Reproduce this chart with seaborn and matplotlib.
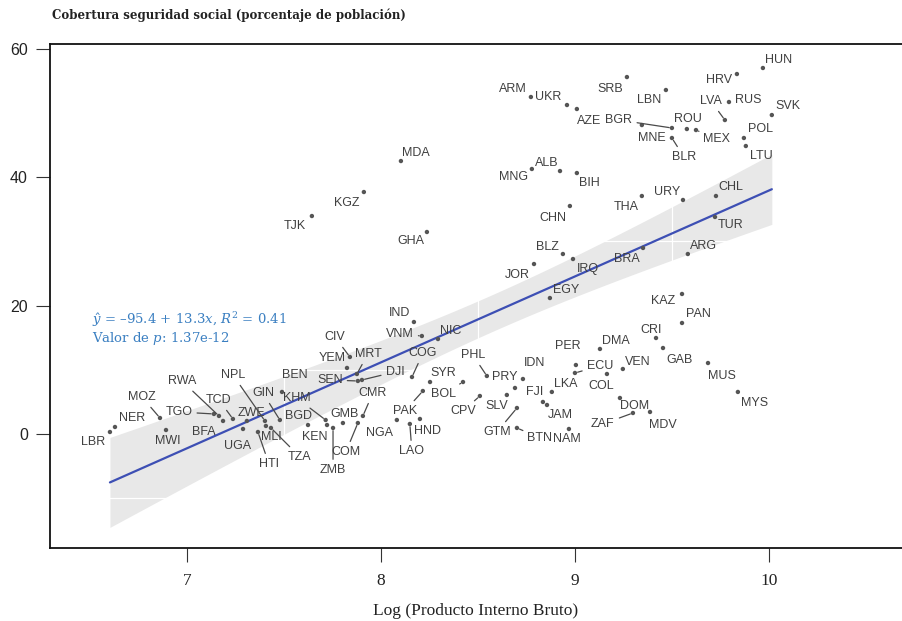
import numpy as np
import pandas as pd
import matplotlib
matplotlib.use("Agg")
import matplotlib.pyplot as plt
import seaborn as sns

# Country codes, log GDP per capita and social security coverage (% of population)
countries = [
    "LBR", "NER", "MOZ", "MWI", "TGO", "RWA", "TCD", "BFA", "ZWE", "UGA",
    "NPL", "GIN", "BEN", "KHM", "BGD", "MLI", "TZA", "HTI", "KEN", "ZMB",
    "GMB", "COM", "CMR", "NGA", "PAK", "HND", "LAO", "CIV", "YEM", "MRT",
    "SEN", "DJI", "IND", "VNM", "NIC", "COG", "SYR", "BOL", "PHL", "CPV",
    "SLV", "PRY", "GTM", "BTN", "IDN", "FJI", "LKA", "JAM", "NAM", "PER",
    "ECU", "DMA", "COL", "VEN", "DOM", "ZAF", "MDV", "CRI", "GAB", "MUS",
    "MYS", "KAZ", "PAN", "EGY", "JOR", "BLZ", "IRQ", "BRA", "ARG", "TUR",
    "CHL", "URY", "THA", "CHN", "GHA", "MDA", "MNG", "ALB", "BIH", "TJK",
    "KGZ", "ARM", "UKR", "AZE", "SRB", "LBN", "BGR", "ROU", "MEX", "MNE",
    "BLR", "LVA", "RUS", "HRV", "HUN", "SVK", "POL", "LTU",
]
log_gdp = [
    6.603, 6.629, 6.861, 6.892, 7.139, 7.165, 7.237, 7.186, 7.309, 7.289,
    7.402, 7.479, 7.490, 7.715, 7.624, 7.407, 7.433, 7.366, 7.722, 7.753,
    7.804, 7.881, 7.907, 8.082, 8.216, 8.201, 8.149, 7.840, 7.825, 7.876,
    7.881, 7.902, 8.170, 8.211, 8.294, 8.160, 8.253, 8.423, 8.546, 8.510,
    8.649, 8.691, 8.701, 8.701, 8.732, 8.835, 8.881, 8.856, 8.969, 9.005,
    9.000, 9.129, 9.165, 9.247, 9.232, 9.299, 9.387, 9.418, 9.454, 9.686,
    9.840, 9.552, 9.552, 8.871, 8.789, 8.938, 8.990, 9.351, 9.582, 9.722,
    9.727, 9.557, 9.345, 8.974, 8.237, 8.103, 8.778, 8.923, 9.010, 7.644,
    7.912, 8.773, 8.959, 9.010, 9.268, 9.469, 9.500, 9.577, 9.624, 9.345,
    9.500, 9.773, 9.794, 9.835, 9.969, 10.015, 9.871, 9.881,
]
coverage = [
    0.31, 1.09, 2.49, 0.62, 3.12, 2.81, 2.34, 2.03, 2.03, 0.78,
    2.03, 2.18, 6.55, 2.18, 1.40, 1.25, 0.94, 0.31, 1.40, 0.94,
    1.71, 1.71, 2.81, 2.18, 6.70, 2.34, 1.56, 12.0, 10.29, 9.35,
    8.26, 8.42, 17.45, 15.27, 14.80, 8.88, 8.10, 8.10, 9.04, 5.92,
    6.08, 7.17, 4.05, 0.94, 8.57, 4.99, 6.55, 4.52, 0.78, 10.75,
    9.51, 13.25, 9.35, 10.13, 5.61, 3.27, 3.43, 14.96, 13.40, 11.06,
    6.55, 21.82, 17.30, 21.19, 26.49, 28.05, 27.27, 28.99, 28.05, 33.82,
    37.09, 36.47, 37.09, 35.53, 31.48, 42.54, 41.30, 40.98, 40.67, 33.97,
    37.71, 52.52, 51.27, 50.65, 55.63, 53.61, 47.69, 47.53, 47.37, 48.15,
    46.13, 48.93, 51.74, 56.10, 57.04, 49.71, 46.13, 44.88,
]

# Label placement (pixel offsets of each country label from its point)
label_dx = [
    -17, 17, -18, 2, -35, -37, -14, -19, 5, -5,
    -32, -17, 13, -29, -10, 5, 29, 11, -12, 0,
    2, -12, 10, -17, -18, 8, 2, -15, -15, 11,
    -28, 33, -14, -22, 13, 11, 13, -20, -14, -17,
    -10, -10, -20, 23, 12, -8, 14, 13, -2, -8,
    25, 16, -6, 15, 15, -30, 13, -5, 17, 14,
    17, -19, 16, 16, -17, -15, 15, -16, 16, 16,
    15, -16, -16, -17, -16, 15, -18, -13, 13, -17,
    -17, -18, -19, 12, -17, -17, -53, 1, 21, 10,
    12, -14, 19, -18, 16, 16, 17, 16,
]
label_dy = [
    -10, 9, 21, -11, 2, 35, 19, -11, 8, -17,
    46, 27, 17, 22, 9, -11, -29, -32, -12, -42,
    9, -29, 23, -13, -20, -12, -27, 20, 10, 20,
    1, 8, 9, 2, 8, 24, 9, -12, 21, -15,
    -11, 11, -24, -10, 16, 10, 8, -10, -10, 19,
    7, 8, -12, 7, -8, -11, -13, 8, -12, -13,
    -11, -7, 9, 8, -11, 7, -10, -11, 8, -8,
    9, 8, -11, -12, -9, 8, -8, 8, -10, -10,
    -11, 8, 8, -12, -12, -10, 8, 10, -9, -13,
    -19, 19, 2, -6, 8, 9, 9, -10,
]

df = pd.DataFrame({"pais": countries, "lgdp": log_gdp, "cob": coverage})

sns.set_theme(style="white")
plt.rcParams["mathtext.fontset"] = "dejavuserif"

fig = plt.figure(figsize=(9.02, 6.21), dpi=100)
ax = fig.add_axes([50 / 902, 1 - 548 / 621, 852 / 902, (548 - 44) / 621])

line_blue = "#3d4fb4"
point_grey = "#555555"
text_grey = "#404040"

# OLS fit with the classical 95% confidence band for the mean
x = df["lgdp"].to_numpy()
y = df["cob"].to_numpy()
n = len(x)
slope, intercept = np.polyfit(x, y, 1)
resid = y - (intercept + slope * x)
s = np.sqrt(np.sum(resid ** 2) / (n - 2))
sxx = np.sum((x - x.mean()) ** 2)
xs = np.linspace(x.min(), x.max(), 200)
fit = intercept + slope * xs
half = 1.985 * s * np.sqrt(1 / n + (xs - x.mean()) ** 2 / sxx)  # t(0.975, n-2)
ax.fill_between(xs, fit - half, fit + half, color="#e8e8e8", lw=0, zorder=1)

sns.regplot(data=df, x="lgdp", y="cob", ax=ax, scatter=False, ci=None,
            line_kws={"color": line_blue, "lw": 1.6, "zorder": 4})

# Light minor grid, visible only across the confidence band
for gx in np.arange(6.5, 11.0, 1.0):
    ax.axvline(gx, color="white", lw=0.9, zorder=2)
for gy in [-10, 10, 30, 50]:
    ax.axhline(gy, color="white", lw=0.9, zorder=2)

sns.scatterplot(data=df, x="lgdp", y="cob", ax=ax, s=10, color=point_grey,
                edgecolor="none", zorder=5)

for code, px, py, dx, dy in zip(countries, log_gdp, coverage, label_dx, label_dy):
    far = np.hypot(dx, dy) > 22
    ax.annotate(code, xy=(px, py), xytext=(dx, dy), textcoords="offset pixels",
                ha="center", va="center", fontsize=9, color=text_grey,
                family="Liberation Sans", zorder=6,
                arrowprops=dict(arrowstyle="-", color="#4a4a4a", lw=0.9,
                                shrinkA=1, shrinkB=2) if far else None)

blue_txt = "#3a7fc1"
ax.text(6.51, 17.8, r"$\hat{y}$ = –95.4 + 13.3$x$, $R^2$ = 0.41",
        color=blue_txt, fontsize=9.5, family="DejaVu Serif",
        ha="left", va="center")
ax.text(6.51, 14.95, r"Valor de $p$: 1.37e-12",
        color=blue_txt, fontsize=9.5, family="DejaVu Serif",
        ha="left", va="center")

ax.set_xlim(6.294, 10.686)
ax.set_ylim(-17.77, 60.78)
ax.set_xticks([7, 8, 9, 10])
ax.set_yticks([0, 20, 40, 60])
ax.set_xticklabels(["7", "8", "9", "10"], family="Liberation Serif",
                   fontsize=12.5, color="#222222")
ax.set_yticklabels(["0", "20", "40", "60"], family="Liberation Sans",
                   fontsize=11.5, color="#222222")
ax.tick_params(axis="both", which="major", direction="out", length=10,
               width=0.8, color="#333333", pad=6, left=True, bottom=True)
ax.tick_params(axis="x", pad=8)
ax.set_xlabel("Log (Producto Interno Bruto)", family="Liberation Serif",
              fontsize=12.5, color="#222222", labelpad=10)
ax.set_ylabel("")

for side in ["left", "bottom", "top"]:
    ax.spines[side].set_color("#111111")
    ax.spines[side].set_linewidth(1.3)
ax.spines["right"].set_visible(False)

fig.text(52 / 902, 1 - 15 / 621,
         "Cobertura seguridad social (porcentaje de población)",
         family="DejaVu Serif", fontweight="bold", fontsize=8.5,
         color="#222222", ha="left", va="center")

fig.savefig("out.png", dpi=100, facecolor="white")
